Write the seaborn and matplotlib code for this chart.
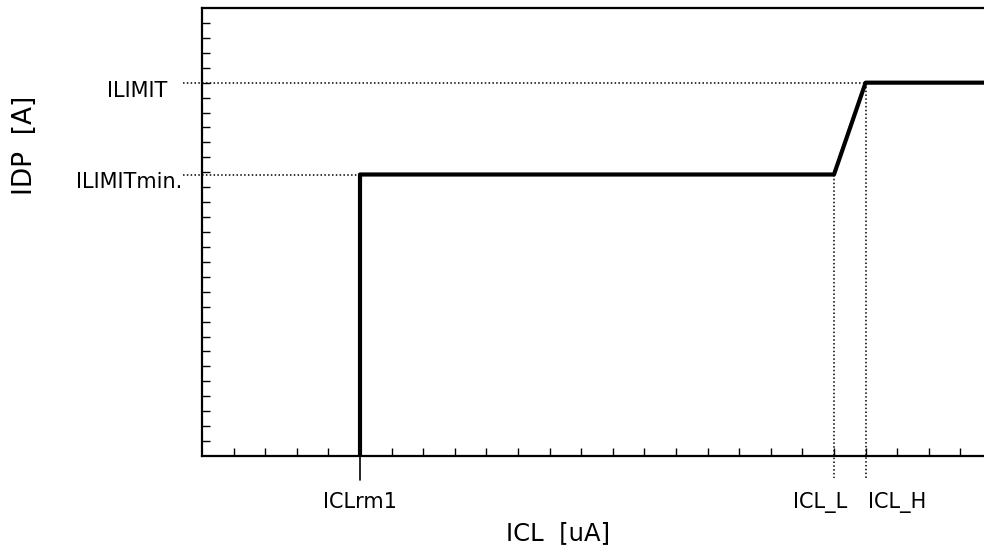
import matplotlib
matplotlib.use("Agg")
import matplotlib.pyplot as plt
import seaborn as sns
import pandas as pd
import numpy as np

# curve IDP vs ICL
icl = [5, 5, 20, 21, 25]
idp = [0, 18.85, 18.85, 25, 25]

# marked levels
y_names = ["ILIMIT", "ILIMITmin."]
y_levels = [25, 18.85]
y_ends = [21, 20]          # x where dotted guide meets the curve

x_names = ["ICLrm1", "ICL_L", "ICL_H"]
x_levels = [5, 20, 21]
x_tops = [0, 18.85, 25]    # y where dotted guide meets the curve

sns.set_style("ticks")
plt.rcParams['font.family'] = ['DejaVu Sans']
plt.rcParams['text.color'] = 'black'

fig = plt.figure(figsize=(9.84, 5.46), dpi=100)
ax = fig.add_axes([202 / 984, 90 / 546, 790 / 984, 448 / 546])

df = pd.DataFrame({"ICL": icl, "IDP": idp})
sns.lineplot(data=df, x="ICL", y="IDP", sort=False, estimator=None,
             color="black", linewidth=3, ax=ax, zorder=5)

ax.set_xlim(0, 25)
ax.set_ylim(0, 30)
ax.set_xticks([])
ax.set_yticks([])
ax.set_xticks(np.arange(1, 25), minor=True)
ax.set_yticks(np.arange(1, 30), minor=True)
ax.tick_params(which="minor", direction="in", length=6, width=1, color="black")
ax.set_xlabel("")
ax.set_ylabel("")
for s in ["left", "bottom", "top"]:
    ax.spines[s].set_linewidth(1.6)
    ax.spines[s].set_color("black")
ax.spines["right"].set_visible(False)

dot = (0, (1, 1.5))
# horizontal guides + labels
for name, yv, xe in zip(y_names, y_levels, y_ends):
    ax.plot([-0.6, xe], [yv, yv], color="black", lw=1.1, ls=dot, clip_on=False)
for name, yv, dx in zip(y_names, y_levels, [-25.2, -14.4]):
    ax.annotate(name, xy=(0, yv), xycoords=("axes fraction", "data"),
                xytext=(dx, -10), textcoords="offset points",
                ha="right", va="baseline", fontsize=15)

# vertical guides + labels
for name, xv, yt in zip(x_names, x_levels, x_tops):
    if name == "ICLrm1":
        ax.plot([xv, xv], [0, -1.6], color="black", lw=1.2, clip_on=False)
    else:
        ax.plot([xv, xv], [yt, -1.5], color="black", lw=1.1, ls=dot, clip_on=False)
for name, xv, dx in zip(x_names, x_levels, [0, -9.7, 22.7]):
    ax.annotate(name, xy=(xv, 0), xycoords=("data", "axes fraction"),
                xytext=(dx, -37.4), textcoords="offset points",
                ha="center", va="baseline", fontsize=15)

fig.text(558 / 984, 6 / 546, "ICL  [uA]", ha="center", va="baseline", fontsize=17.5)
fig.text(25 / 984, 401 / 546, "IDP  [A]", ha="center", va="center",
         rotation=90, fontsize=19)

fig.savefig("out.png", dpi=100)
